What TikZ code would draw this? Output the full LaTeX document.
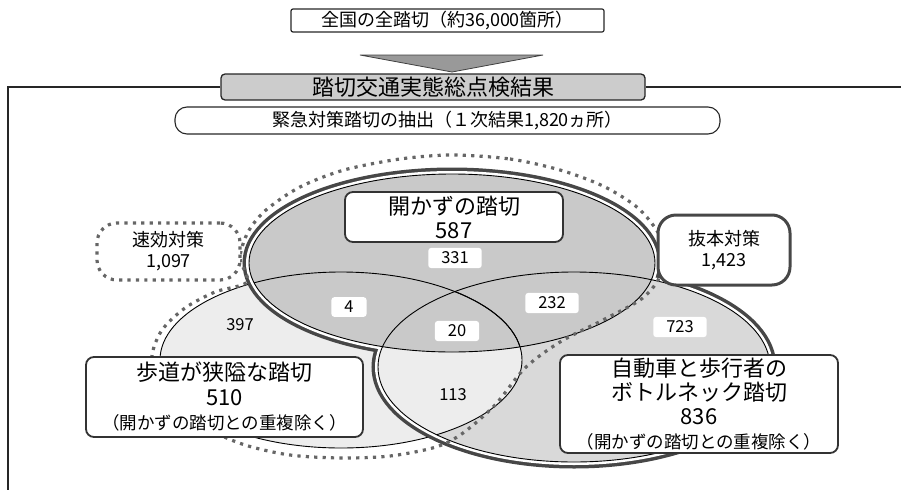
\documentclass[tikz,border=0pt]{standalone}
\usepackage{fontspec}
\setmainfont{Noto Sans CJK JP}
\begin{document}
\begin{tikzpicture}[x=1pt,y=-1pt,
  frameline/.style={draw=black!85, line width=1.3pt},
  lbl/.style={fill=white, rounded corners=3pt, inner xsep=13pt, inner ysep=4pt, font=\fontsize{16.5}{18}\selectfont},
  plainlbl/.style={font=\fontsize{16.5}{18}\selectfont},
  namebox/.style={draw=black!80, line width=1.8pt, fill=white, rounded corners=8pt, align=center, inner sep=0pt},
  dotline/.style={draw=black!60, line width=3.2pt, dash pattern=on 3.2pt off 5.2pt},
  band/.style={draw=black!72, line width=13pt},
  gapline/.style={draw=white, line width=6pt},
  thinline/.style={draw=black, line width=0.9pt},
  fillA/.style={fill=black!21},
  fillB/.style={fill=black!7},
  fillC/.style={fill=black!15}]
\useasboundingbox (0,0) rectangle (901,490);
\def\ellA{(452,263) ellipse [x radius=203pt, y radius=89pt]}
\def\ellB{(341,360) ellipse [x radius=181pt, y radius=88pt]}
\def\ellC{(574,367) ellipse [x radius=196pt, y radius=95pt]}

% top part
\node[draw=black!85, line width=1.2pt, rounded corners=2pt, minimum width=313pt, minimum height=23pt, inner sep=0pt, font=\fontsize{18}{20}\selectfont] (top) at (447.5,20.5) {全国の全踏切（約36,000箇所）};
\fill[black!40, draw=black!75, line width=0.8pt] (360,55) -- (543,55) -- (452,72) -- cycle;
\node[draw=black!85, line width=1.3pt, fill=black!20, rounded corners=4pt, minimum width=424pt, minimum height=26pt, inner sep=0pt, font=\fontsize{22}{24}\selectfont] (title) at (433,87) {踏切交通実態総点検結果};
\coordinate (fl) at (8,87);
\coordinate (fb) at (8,490);
\coordinate (fr) at (901,87);
\draw[frameline] (title.west) -- (fl) -- (fb);
\draw[frameline] (title.east) -- (fr);
\node[draw=black!85, line width=1.1pt, rounded corners=12pt, minimum width=545pt, minimum height=27pt, inner sep=0pt, font=\fontsize{18}{20}\selectfont] (kinkyu) at (447.5,120.5) {緊急対策踏切の抽出（１次結果1,820ヵ所）};

% Venn fills and outlines
\path[fillB] \ellB;
\draw[thinline] \ellB;
\draw[band] \ellA;
\draw[band] \ellC;
\draw[gapline] \ellA;
\draw[gapline] \ellC;
\path[fillC] \ellC;
\begin{scope}
  \clip \ellC;
  \path[fillB] \ellB;
\end{scope}
\path[fillA] \ellA;
\begin{scope}
  \clip \ellA;
  \draw[thinline] \ellB;
\end{scope}
\begin{scope}
  \clip \ellC;
  \draw[thinline] \ellB;
\end{scope}
\draw[thinline] \ellA;
\draw[thinline] \ellC;

% dotted outline (速効対策 group)
\draw[dotline] plot[smooth cycle] coordinates {
  (452,155) (510,159) (560,170) (603,186) (638,208) (660,236) (664,262) (657,282)
  (640,300) (603,320) (560,342) (525,368) (495,405) (463,433) (436,447) (390,456)
  (341,458) (290,455) (245,445) (205,428) (176,409) (155,380) (152,355) (162,330)
  (185,308) (215,292) (247,282) (240,258) (248,232) (266,210) (300,187) (344,170) (400,159)};

% region numbers
\node[lbl] (n331) at (455,258) {331};
\node[lbl] (n4) at (349,307) {4};
\node[lbl] (n20) at (457,331) {20};
\node[lbl] (n232) at (552,303) {232};
\node[lbl] (n723) at (680,327) {723};
\node[plainlbl] (n397) at (240,325) {397};
\node[plainlbl] (n113) at (453,395) {113};

% name boxes
\node[namebox, minimum width=218pt, minimum height=50pt, font=\fontsize{22}{24}\selectfont] (akazu) at (454,217) {開かずの踏切\\587};
\node[namebox, minimum width=277pt, minimum height=80pt, font=\fontsize{22}{24.5}\selectfont] (hodo) at (224.5,397) {歩道が狭隘な踏切\\510\\{\fontsize{17.5}{24.5}\selectfont （開かずの踏切との重複除く）}};
\node[namebox, minimum width=278pt, minimum height=98pt, font=\fontsize{22}{24}\selectfont] (jidosha) at (699,404) {自動車と歩行者の\\ボトルネック踏切\\836\\{\fontsize{17.5}{24}\selectfont （開かずの踏切との重複除く）}};
\node[draw=black!72, line width=3pt, fill=white, rounded corners=18pt, minimum width=132pt, minimum height=70pt, align=center, inner sep=0pt, font=\fontsize{18}{21}\selectfont] (bappon) at (724,250) {抜本対策\\1,423};
\node[dotline, fill=white, rounded corners=20pt, minimum width=143pt, minimum height=57pt, align=center, inner sep=0pt, font=\fontsize{18}{21}\selectfont] (sokko) at (168.5,251.5) {速効対策\\1,097};
\end{tikzpicture}
\end{document}
